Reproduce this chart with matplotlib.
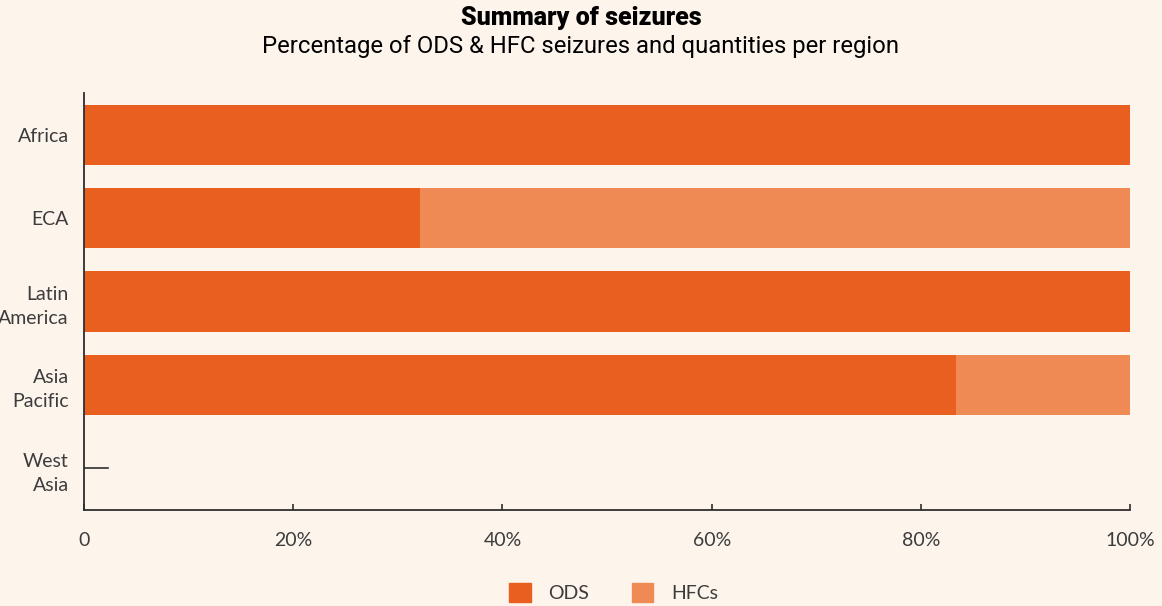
import matplotlib.pyplot as plt
import matplotlib.ticker as ticker
from matplotlib.patches import Patch

# Data (percent of seizures per region)
regions = ['Africa', 'ECA', 'Latin\nAmerica', 'Asia\nPacific', 'West\nAsia']
ods_share = [100, 32.1, 100, 83.4, 0]
hfc_share = [0, 67.9, 0, 16.6, 0]
west_asia_mark = 2.3  # tiny stub drawn for West Asia
x_ticks = [0, 20, 40, 60, 80, 100]
x_labels = ['0', '20%', '40%', '60%', '80%', '100%']

bg = '#fdf4ec'
ods_color = '#e85f20'
hfc_color = '#f08a55'
axis_color = '#2e2e2e'
label_color = '#3c3c3c'

fig = plt.figure(figsize=(11.62, 6.06), dpi=100, facecolor=bg)
ax = fig.add_axes([0.0723, 0.1584, 0.9002, 0.6881], facecolor=bg)

y = list(range(len(regions)))
ax.barh(y, ods_share, height=0.72, color=ods_color, label='ODS')
ax.barh(y, hfc_share, left=ods_share, height=0.72, color=hfc_color, label='HFCs')
ax.plot([0, west_asia_mark], [y[-1], y[-1]], color=axis_color, lw=1.2)

ax.set_ylim(len(regions) - 0.5, -0.5)
ax.set_xlim(0, 100)

ax.set_yticks(y)
ax.set_yticklabels(regions, fontsize=14, color=label_color, family='Lato',
                   linespacing=1.5)
ax.tick_params(axis='y', length=0, pad=11)

ax.xaxis.set_major_locator(ticker.FixedLocator(x_ticks))
ax.set_xticklabels(x_labels, fontsize=14, color=label_color, family='Lato')
ax.tick_params(axis='x', direction='in', length=4, width=1.2,
               color=axis_color, pad=16)

for side in ['top', 'right']:
    ax.spines[side].set_visible(False)
for side in ['left', 'bottom']:
    ax.spines[side].set_color(axis_color)
    ax.spines[side].set_linewidth(1.3)

fig.text(0.5, 0.970, 'Summary of seizures', ha='center', va='center',
         fontsize=18, fontweight='heavy', family='Roboto')
fig.text(0.5, 0.923, 'Percentage of ODS & HFC seizures and quantities per region',
         ha='center', va='center', fontsize=17.2, family='Roboto')

handles = [Patch(color=ods_color, label='ODS'), Patch(color=hfc_color, label='HFCs')]
leg = fig.legend(handles=handles, loc='center', bbox_to_anchor=(0.528, 0.022),
                 ncol=2, frameon=False, handlelength=1.1, handleheight=1.1,
                 columnspacing=2.2, handletextpad=0.9,
                 prop={'family': 'Lato', 'size': 14})
for t in leg.get_texts():
    t.set_color(label_color)

fig.savefig('out.png', dpi=100, facecolor=bg)
